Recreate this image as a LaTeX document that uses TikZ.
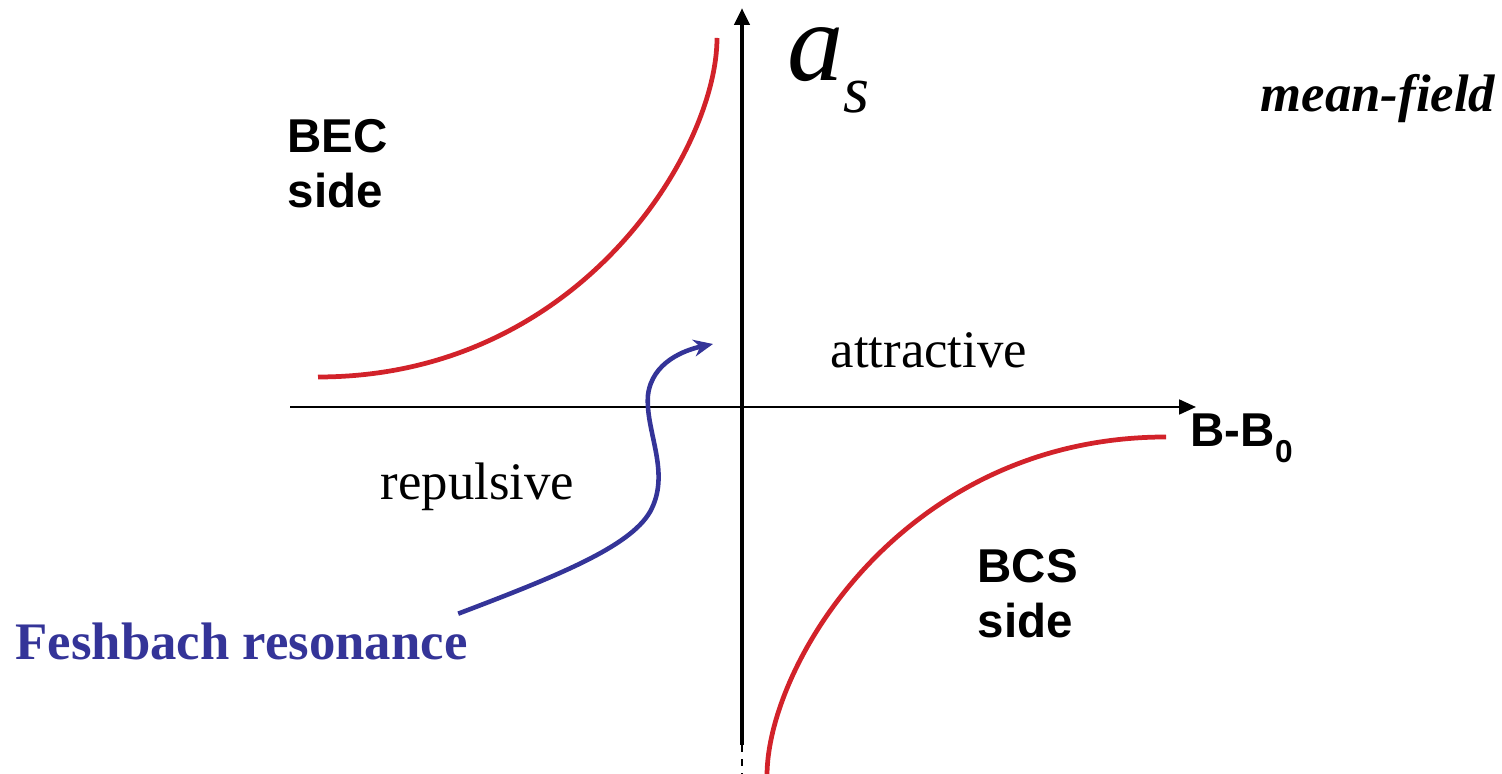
\documentclass[tikz,border=0pt]{standalone}
\usepackage{fontspec}
\setmainfont{Liberation Serif}
\setsansfont{Liberation Sans}
\usetikzlibrary{arrows.meta,positioning,calc}
\definecolor{curvered}{RGB}{210,34,42}
\definecolor{resblue}{RGB}{52,52,152}

\begin{document}
\begin{tikzpicture}[x=0.01cm, y=-0.01cm, >=Stealth]
    \tikzset{
        axis/.style={draw, -{Triangle[length=4.8pt,width=4.2pt]}},
        branch/.style={draw=curvered, line width=1.35pt},
        sidelbl/.style={font=\sffamily\bfseries\fontsize{13.5}{15.7}\selectfont, align=left, anchor=base west, inner sep=0pt},
        regime/.style={font=\fontsize{15}{18}\selectfont, anchor=base west, inner sep=0pt}
    }
    \useasboundingbox (0,0) rectangle (1502,774);

    % axes
    \coordinate (xl) at (290,407);
    \coordinate (xr) at (1196,407);
    \coordinate (yb) at (742,745);
    \coordinate (yt) at (742,8);
    \coordinate (ye) at (742,774);
    \draw [axis, line width=0.7pt] (xl) -- (xr);
    \draw [axis, line width=1.2pt] (yb) -- (yt);
    \draw [dashed, line width=0.5pt, dash pattern=on 2pt off 2pt] (yb) -- (ye);

    \node [anchor=base west, inner sep=0pt, text height=16pt, text depth=10pt] (as) at (787,81)
        {\fontsize{32}{36}\selectfont\itshape a\raisebox{-9pt}{\fontsize{19}{22}\selectfont s}};
    \node [anchor=base west, inner sep=0pt, font=\sffamily\bfseries\fontsize{13.5}{16}\selectfont] (bb) at (1190,447)
        {B-B\raisebox{-4.3pt}{\fontsize{9}{10}\selectfont 0}};
    \node [anchor=base west, inner sep=0pt, font=\bfseries\itshape\fontsize{15}{18}\selectfont] (mf) at (1260,112) {mean-field};

    % the two branches
    \coordinate (b1) at (318,377);
    \coordinate (b2) at (717,38);
    \coordinate (c1) at (1166,437);
    \coordinate (c2) at (767,776);
    \draw [branch] (b1) .. controls (580,377) and (717,150) .. (b2);
    \draw [branch] (c1) .. controls (904,437) and (767,664) .. (c2);

    \node [sidelbl] (bec) at (287,208) {BEC\\side};
    \node [sidelbl] (bcs) at (977,638) {BCS\\side};
    \node [regime] (att) at (830,368) {attractive};
    \node [regime] (rep) at (380,500) {repulsive};

    % Feshbach label and arrow
    \node [anchor=base west, inner sep=0pt, text=resblue, font=\bfseries\fontsize{15}{18}\selectfont] (fesh) at (15,660) {Feshbach resonance};
    \coordinate (fs) at ($(fesh.north east)+(-10,-9)$);
    \coordinate (fe) at (713,344);
    \draw [resblue, line width=1.3pt, -{Stealth[length=5.5pt,width=4.8pt]}] (fs)
        .. controls (560,575) and (635,545) .. (652,508)
        .. controls (670,470) and (645,430) .. (648,395)
        .. controls (652,362) and (685,350) .. (fe);
\end{tikzpicture}
\end{document}
